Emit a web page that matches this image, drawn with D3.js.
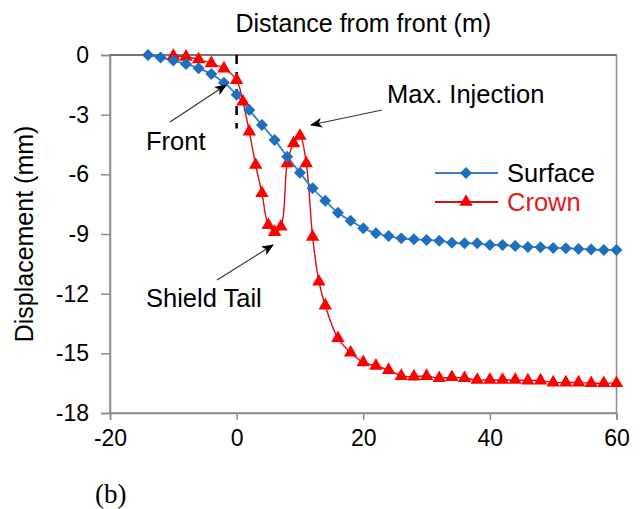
<!DOCTYPE html>
<html><head><meta charset="utf-8">
<script src="https://cdn.jsdelivr.net/npm/d3@7"></script>
<style>
body{margin:0;background:#fff;}
</style></head>
<body><svg id="c" width="641" height="509" style="font-family:'Liberation Sans',Arial,sans-serif"></svg>
<script>
const surfaceX = [-14,-12,-10,-8,-6,-4,-2,0,2,4,6,8,10,12,14,16,18,20,22,24,26,28,30,32,34,36,38,40,42,44,46,48,50,52,54,56,58,60];
const surfaceY = [0,-0.12,-0.28,-0.45,-0.67,-0.96,-1.39,-2.0,-2.77,-3.52,-4.27,-5.11,-5.92,-6.70,-7.33,-7.93,-8.33,-8.71,-8.96,-9.10,-9.22,-9.27,-9.30,-9.34,-9.44,-9.47,-9.47,-9.55,-9.55,-9.60,-9.65,-9.67,-9.70,-9.72,-9.75,-9.78,-9.80,-9.80];
const crownX = [-10,-8,-6,-4,-2,0,1,2,3,4,5,6,7,8,9,10,11,12,13,14,16,18,20,22,24,26,28,30,32,34,36,38,40,42,44,46,48,50,52,54,56,58,60];
const crownY = [-0.05,-0.09,-0.22,-0.42,-0.68,-1.26,-2.35,-3.85,-5.53,-6.95,-8.55,-8.9,-8.63,-5.45,-4.44,-4.07,-5.45,-9.14,-11.4,-12.6,-14.24,-14.97,-15.45,-15.63,-15.84,-16.14,-16.17,-16.14,-16.25,-16.2,-16.25,-16.34,-16.34,-16.34,-16.34,-16.37,-16.37,-16.47,-16.47,-16.47,-16.5,-16.5,-16.5];
const xTicks = [-20,0,20,40,60];
const yTicks = [0,-3,-6,-9,-12,-15,-18];
const seriesNames = ["Surface","Crown"];
const titleText = "Distance from front (m)";
const yLabel = "Displacement (mm)";
const annotations = [
  {text:"Front", tx:146, ty:150, from:[170,122], to:[226,85]},
  {text:"Max. Injection", tx:387, ty:103, from:[382,110], to:[311,125]},
  {text:"Shield Tail", tx:146, ty:307, from:[217,280], to:[273,245]}
];

const svg = d3.select("#c");
const L=110, R=616.5, T=55, B=413;
const x = d3.scaleLinear().domain([-20,60]).range([L,R]);
const y = d3.scaleLinear().domain([-18,0]).range([B,T]);
const axisCol = "#8c8c8c";
const blue = "#1f6fbf", blueLine="#3a7fc4", red="#ff0000", redLine="#d81010";

svg.append("rect").attr("x",L).attr("y",T).attr("width",R-L).attr("height",B-T)
  .attr("fill","none").attr("stroke",axisCol).attr("stroke-width",1.5);

const ya = svg.append("g").attr("transform",`translate(${L},0)`)
  .call(d3.axisLeft(y).tickValues(yTicks).tickSize(9).tickPadding(12).tickFormat(d=>String(d)));
ya.attr("font-family",null);
ya.select(".domain").attr("stroke",axisCol).attr("stroke-width",1.5);
ya.selectAll(".tick line").attr("stroke",axisCol).attr("stroke-width",1.5);
ya.selectAll(".tick text").attr("font-size",23).attr("fill","#000");

const xa = svg.append("g").attr("transform",`translate(0,${B})`)
  .call(d3.axisBottom(x).tickValues(xTicks).tickSize(7).tickPadding(10).tickFormat(d=>String(d)));
xa.attr("font-family",null);
xa.select(".domain").attr("stroke",axisCol).attr("stroke-width",1.5);
xa.selectAll(".tick line").attr("stroke",axisCol).attr("stroke-width",1.5);
xa.selectAll(".tick text").attr("font-size",23).attr("fill","#000");

svg.append("line").attr("x1",L).attr("x2",R).attr("y1",y(0)).attr("y2",y(0))
  .attr("stroke","#666").attr("stroke-width",1.5);

svg.append("line").attr("x1",x(0)).attr("x2",x(0)).attr("y1",y(0)).attr("y2",y(-3.7))
  .attr("stroke","#000").attr("stroke-width",2.5).attr("stroke-dasharray","9,8");

svg.append("text").attr("x",(L+R)/2).attr("y",32).attr("text-anchor","middle")
  .attr("font-size",25).text(titleText);
svg.append("text").attr("transform",`translate(33,${(T+B)/2}) rotate(-90)`).attr("text-anchor","middle")
  .attr("font-size",25).text(yLabel);
svg.append("text").attr("x",95).attr("y",503).attr("font-size",27)
  .style("font-family","'Liberation Serif','Times New Roman',serif").text("(b)");

const line = d3.line().x(d=>x(d[0])).y(d=>y(d[1])).curve(d3.curveCatmullRom.alpha(0.5));
const sData = surfaceX.map((v,i)=>[v,surfaceY[i]]);
const cData = crownX.map((v,i)=>[v,crownY[i]]);

svg.append("path").datum(cData).attr("d",line).attr("fill","none").attr("stroke",redLine).attr("stroke-width",1.4);
svg.append("path").datum(sData).attr("d",line).attr("fill","none").attr("stroke",blueLine).attr("stroke-width",1.8);

const diamond = d3.symbol().type(d3.symbolSquare).size(72);
const tri = d3.symbol().type(d3.symbolTriangle).size(78);

svg.append("g").selectAll("path").data(cData).join("path")
  .attr("d",tri).attr("transform",d=>`translate(${x(d[0])},${y(d[1])})`).attr("fill",red);
svg.append("g").selectAll("path").data(sData).join("path")
  .attr("d",diamond).attr("transform",d=>`translate(${x(d[0])},${y(d[1])}) rotate(45)`).attr("fill",blue);

const lg = [{n:seriesNames[0],c:blueLine,m:blue,s:diamond,rot:45,y:173,tc:"#000"},
            {n:seriesNames[1],c:redLine,m:red,s:tri,rot:0,y:202,tc:"#e02020"}];
lg.forEach(d=>{
  svg.append("line").attr("x1",435).attr("x2",498).attr("y1",d.y).attr("y2",d.y).attr("stroke",d.c).attr("stroke-width",1.8);
  svg.append("path").attr("d",d.s).attr("transform",`translate(466,${d.y}) rotate(${d.rot})`).attr("fill",d.m);
  svg.append("text").attr("x",507).attr("y",d.y+9).attr("font-size",25.5).attr("fill",d.tc).text(d.n);
});

svg.append("defs").append("marker").attr("id","ah").attr("viewBox","0 0 12 10")
  .attr("refX",11).attr("refY",5).attr("markerWidth",12).attr("markerHeight",10)
  .attr("markerUnits","userSpaceOnUse").attr("orient","auto")
  .append("path").attr("d","M0,0 L12,5 L0,10 L3,5 Z").attr("fill","#000");
annotations.forEach(a=>{
  svg.append("line").attr("x1",a.from[0]).attr("y1",a.from[1]).attr("x2",a.to[0]).attr("y2",a.to[1])
    .attr("stroke","#333").attr("stroke-width",1.2).attr("marker-end","url(#ah)");
  svg.append("text").attr("x",a.tx).attr("y",a.ty).attr("font-size",25.5).attr("fill","#000").text(a.text);
});
</script></body></html>
